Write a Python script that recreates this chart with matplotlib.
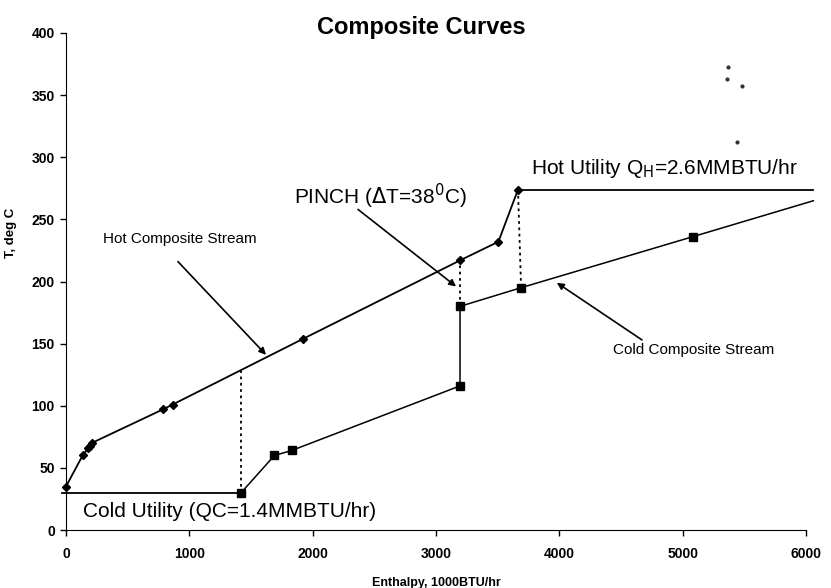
import matplotlib.pyplot as plt

plt.rcParams['font.family'] = ['Liberation Sans', 'DejaVu Sans']

# hot composite curve (diamonds)
hot_h = [0, 135, 181, 195, 208, 784, 865, 1925, 3195, 3506, 3665]
hot_t = [35, 60, 66, 68, 70, 97, 101, 154, 217, 232, 274]

# cold composite curve (squares), last point is the line end only
cold_h = [1420, 1690, 1830, 3195, 3195, 3690, 5080, 6060]
cold_t = [30, 60, 64, 116, 180, 195, 236, 265]

# utilities
hot_util_h = [3665, 6060]
hot_util_t = [274, 274]
cold_util_h = [-30, 1420]
cold_util_t = [30, 30]

# dotted connectors
dot_h = [[1420, 1420], [3195, 3195], [3665, 3690]]
dot_t = [[30, 128], [180, 217], [274, 195]]

# stray dots in the top right corner
stray_h = [5366, 5360, 5484, 5444]
stray_t = [373, 363, 357, 312]

x_ticks = [0, 1000, 2000, 3000, 4000, 5000, 6000]
y_ticks = [0, 50, 100, 150, 200, 250, 300, 350, 400]

fig = plt.figure(figsize=(8.31, 5.88), dpi=100)
ax = fig.add_axes([0.0794, 0.0986, 0.8905, 0.8453])

ax.plot(hot_h, hot_t, color='black', lw=1.3, marker='D', ms=4.5, clip_on=False)
ax.plot(cold_h, cold_t, color='black', lw=1.1, clip_on=False)
ax.plot(cold_h[:-1], cold_t[:-1], ls='none', color='black', marker='s', ms=6, clip_on=False)
ax.plot(hot_util_h, hot_util_t, color='black', lw=1.3, clip_on=False)
ax.plot(cold_util_h, cold_util_t, color='black', lw=1.3, clip_on=False)
for xs, ys in zip(dot_h, dot_t):
    ax.plot(xs, ys, color='black', lw=1.3, ls=(0, (1.5, 2)))
ax.plot(stray_h, stray_t, ls='none', marker='o', ms=2, color='#333333')

# arrows
arrow = dict(arrowstyle='-|>', color='black', lw=1.2, mutation_scale=10, shrinkA=0, shrinkB=0)
ax.annotate('', xy=(1622, 141), xytext=(908, 216), arrowprops=arrow)
ax.annotate('', xy=(3163, 196), xytext=(2368, 258), arrowprops=arrow)
ax.annotate('', xy=(3980, 199), xytext=(4670, 153), arrowprops=arrow)

# texts
ax.text(925, 234, 'Hot Composite Stream', fontsize=11, ha='center', va='center')
ax.text(5085, 145, 'Cold Composite Stream', fontsize=11, ha='center', va='center')
ax.text(3252, 262, r'PINCH ($\Delta$T=38$^0$C)', fontsize=15, ha='right', va='baseline')
ax.text(3774, 291, r'Hot Utility Q$_\mathrm{H}$=2.6MMBTU/hr', fontsize=15, ha='left', va='center')
ax.text(140, 15, 'Cold Utility (QC=1.4MMBTU/hr)', fontsize=15, ha='left', va='center')

fig.text(0.507, 0.954, 'Composite Curves', fontsize=17, fontweight='bold', ha='center', va='center')

ax.set_xlim(0, 6000)
ax.set_ylim(0, 400)
ax.set_xticks(x_ticks)
ax.set_yticks(y_ticks)
ax.tick_params(direction='out', length=4, width=1, labelsize=10, pad=4)
for lab in ax.get_xticklabels() + ax.get_yticklabels():
    lab.set_fontweight('bold')
ax.tick_params(axis='x', pad=8)
ax.spines['top'].set_visible(False)
ax.spines['right'].set_visible(False)

ax.set_xlabel('Enthalpy, 1000BTU/hr', fontsize=9, fontweight='bold')
ax.set_ylabel('T, deg C', fontsize=9.5, fontweight='bold')
ax.xaxis.set_label_coords(0.5, -0.095)
ax.yaxis.set_label_coords(-0.066, 0.598)

fig.savefig('out.png', dpi=100)
